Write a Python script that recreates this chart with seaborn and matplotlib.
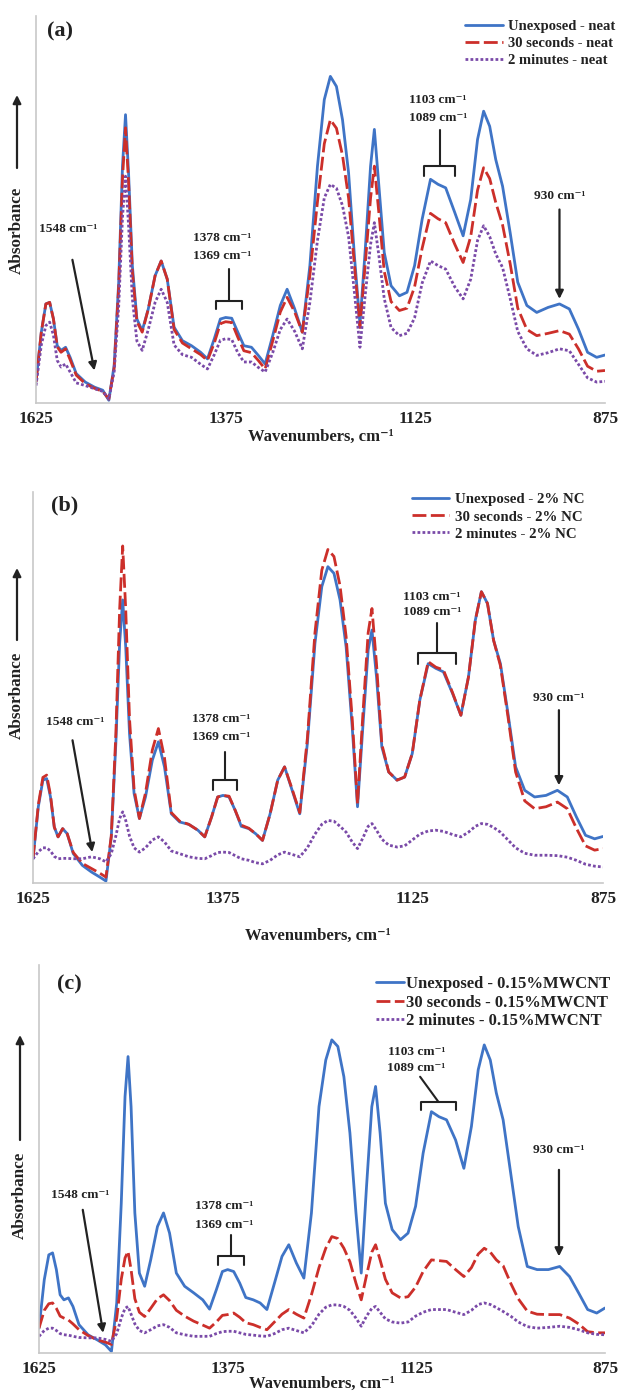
import numpy as np
import pandas as pd
import seaborn as sns
import matplotlib
matplotlib.use("Agg")
import matplotlib.pyplot as plt
from matplotlib.patches import FancyArrowPatch

sns.set_style("white")
plt.rcParams['font.family'] = ['Liberation Serif', 'DejaVu Serif']
plt.rcParams['font.weight'] = 'bold'

# ---------------- data ----------------
wavenumbers = [1625, 1618, 1612, 1607, 1602, 1597, 1592, 1586, 1580, 1572,
               1560, 1548, 1537, 1529, 1522, 1516, 1511, 1507, 1503, 1498,
               1492, 1485, 1477, 1468, 1460, 1452, 1443, 1432, 1420, 1408,
               1399, 1390, 1382, 1375, 1367, 1359, 1351, 1341, 1332, 1323,
               1313, 1303, 1294, 1284, 1274, 1264, 1254, 1245, 1237, 1229,
               1221, 1213, 1205, 1198, 1191, 1184, 1179, 1173, 1166, 1157,
               1146, 1136, 1126, 1116, 1105, 1095, 1085, 1073, 1062, 1052,
               1043, 1035, 1027, 1019, 1010, 1000, 990, 978, 965, 950,
               935, 922, 910, 898, 886, 875]

a_unexposed = [0.054, 0.183, 0.256, 0.26, 0.217, 0.148, 0.136, 0.144, 0.118, 0.076,
               0.054, 0.041, 0.033, 0.007, 0.097, 0.312, 0.612, 0.745, 0.594, 0.355,
               0.217, 0.187, 0.243, 0.329, 0.367, 0.32, 0.196, 0.161, 0.148, 0.131,
               0.114, 0.166, 0.217, 0.221, 0.219, 0.183, 0.148, 0.144, 0.123, 0.101,
               0.174, 0.252, 0.294, 0.243, 0.183, 0.355, 0.612, 0.784, 0.844, 0.818,
               0.732, 0.595, 0.372, 0.204, 0.397, 0.612, 0.707, 0.56, 0.389, 0.303,
               0.277, 0.286, 0.355, 0.475, 0.578, 0.565, 0.556, 0.492, 0.432, 0.526,
               0.681, 0.754, 0.715, 0.629, 0.56, 0.44, 0.312, 0.252, 0.234, 0.247,
               0.256, 0.243, 0.191, 0.131, 0.118, 0.124]
a_30s = [0.054, 0.183, 0.256, 0.26, 0.217, 0.145, 0.131, 0.14, 0.112, 0.072,
         0.05, 0.038, 0.03, 0.01, 0.09, 0.30, 0.58, 0.711, 0.57, 0.34,
         0.21, 0.183, 0.243, 0.329, 0.367, 0.32, 0.19, 0.155, 0.14, 0.125,
         0.11, 0.155, 0.205, 0.21, 0.208, 0.17, 0.135, 0.13, 0.11, 0.088,
         0.16, 0.235, 0.273, 0.235, 0.183, 0.33, 0.52, 0.67, 0.732, 0.71,
         0.64, 0.53, 0.35, 0.195, 0.36, 0.53, 0.612, 0.49, 0.34, 0.262,
         0.239, 0.245, 0.30, 0.40, 0.49, 0.476, 0.466, 0.41, 0.363, 0.43,
         0.55, 0.608, 0.58, 0.518, 0.46, 0.36, 0.245, 0.19, 0.174, 0.18,
         0.187, 0.178, 0.14, 0.095, 0.082, 0.084]
a_2min = [0.045, 0.15, 0.20, 0.209, 0.175, 0.11, 0.093, 0.101, 0.08, 0.052,
          0.045, 0.037, 0.03, 0.01, 0.08, 0.25, 0.48, 0.586, 0.46, 0.27,
          0.16, 0.136, 0.19, 0.26, 0.294, 0.26, 0.15, 0.125, 0.118, 0.10,
          0.088, 0.125, 0.162, 0.166, 0.164, 0.13, 0.106, 0.106, 0.092, 0.08,
          0.13, 0.19, 0.217, 0.185, 0.14, 0.26, 0.42, 0.53, 0.565, 0.555,
          0.51, 0.43, 0.28, 0.144, 0.28, 0.41, 0.466, 0.38, 0.27, 0.195,
          0.174, 0.18, 0.22, 0.31, 0.367, 0.355, 0.346, 0.30, 0.269, 0.32,
          0.42, 0.458, 0.43, 0.385, 0.35, 0.27, 0.185, 0.14, 0.123, 0.13,
          0.14, 0.135, 0.10, 0.065, 0.054, 0.056]

b_unexposed = [0.062, 0.195, 0.263, 0.267, 0.22, 0.143, 0.118, 0.139, 0.126, 0.075,
               0.045, 0.028, 0.015, 0.005, 0.118, 0.357, 0.613, 0.724, 0.604, 0.382,
               0.229, 0.165, 0.22, 0.314, 0.361, 0.297, 0.177, 0.156, 0.15, 0.135,
               0.118, 0.169, 0.22, 0.224, 0.22, 0.186, 0.145, 0.139, 0.126, 0.109,
               0.177, 0.263, 0.297, 0.237, 0.177, 0.357, 0.613, 0.758, 0.809, 0.792,
               0.724, 0.604, 0.399, 0.195, 0.399, 0.596, 0.647, 0.527, 0.348, 0.284,
               0.263, 0.271, 0.331, 0.468, 0.561, 0.549, 0.54, 0.485, 0.429, 0.527,
               0.672, 0.745, 0.715, 0.621, 0.561, 0.433, 0.297, 0.237, 0.22, 0.224,
               0.237, 0.22, 0.169, 0.122, 0.113, 0.119]
b_30s = [0.062, 0.20, 0.27, 0.276, 0.225, 0.143, 0.118, 0.139, 0.126, 0.078,
         0.05, 0.037, 0.025, 0.015, 0.12, 0.38, 0.70, 0.862, 0.70, 0.42,
         0.24, 0.165, 0.23, 0.34, 0.395, 0.32, 0.18, 0.158, 0.15, 0.135,
         0.118, 0.169, 0.22, 0.224, 0.222, 0.186, 0.148, 0.14, 0.126, 0.109,
         0.177, 0.263, 0.297, 0.24, 0.18, 0.37, 0.64, 0.80, 0.853, 0.835,
         0.76, 0.63, 0.42, 0.203, 0.43, 0.64, 0.702, 0.56, 0.355, 0.284,
         0.263, 0.271, 0.331, 0.468, 0.566, 0.552, 0.545, 0.487, 0.429, 0.527,
         0.672, 0.745, 0.715, 0.621, 0.556, 0.425, 0.284, 0.21, 0.19, 0.195,
         0.207, 0.19, 0.14, 0.095, 0.084, 0.088]
b_2min = [0.062, 0.08, 0.09, 0.09, 0.082, 0.068, 0.062, 0.063, 0.063, 0.062,
          0.062, 0.067, 0.062, 0.054, 0.075, 0.12, 0.165, 0.182, 0.16, 0.12,
          0.09, 0.079, 0.09, 0.11, 0.118, 0.105, 0.082, 0.075, 0.067, 0.063,
          0.062, 0.07, 0.078, 0.079, 0.078, 0.07, 0.062, 0.058, 0.052, 0.049,
          0.058, 0.072, 0.079, 0.073, 0.067, 0.09, 0.125, 0.15, 0.16, 0.158,
          0.145, 0.13, 0.105, 0.088, 0.115, 0.145, 0.152, 0.135, 0.112, 0.097,
          0.092, 0.095, 0.11, 0.125, 0.133, 0.135, 0.132, 0.124, 0.118, 0.13,
          0.145, 0.152, 0.15, 0.142, 0.13, 0.11, 0.09, 0.076, 0.071, 0.071,
          0.07, 0.066, 0.058, 0.048, 0.043, 0.041]

c_unexposed = [0.064, 0.189, 0.253, 0.258, 0.215, 0.15, 0.137, 0.142, 0.12, 0.073,
               0.047, 0.034, 0.021, 0.004, 0.129, 0.386, 0.661, 0.764, 0.635, 0.361,
               0.206, 0.172, 0.24, 0.326, 0.361, 0.309, 0.206, 0.172, 0.155, 0.137,
               0.113, 0.163, 0.21, 0.215, 0.21, 0.18, 0.143, 0.137, 0.129, 0.112,
               0.18, 0.249, 0.279, 0.232, 0.193, 0.361, 0.635, 0.755, 0.807, 0.79,
               0.712, 0.567, 0.361, 0.206, 0.429, 0.635, 0.687, 0.567, 0.386, 0.318,
               0.292, 0.309, 0.378, 0.515, 0.622, 0.609, 0.601, 0.549, 0.476, 0.584,
               0.73, 0.794, 0.755, 0.67, 0.601, 0.464, 0.326, 0.223, 0.215, 0.215,
               0.223, 0.197, 0.155, 0.112, 0.103, 0.116]
c_30s = [0.064, 0.11, 0.127, 0.129, 0.115, 0.095, 0.09, 0.085, 0.075, 0.06,
         0.045, 0.034, 0.028, 0.022, 0.09, 0.19, 0.245, 0.262, 0.215, 0.14,
         0.105, 0.094, 0.115, 0.14, 0.15, 0.135, 0.11, 0.095, 0.082, 0.072,
         0.064, 0.08, 0.097, 0.099, 0.103, 0.092, 0.078, 0.073, 0.066, 0.06,
         0.08, 0.10, 0.112, 0.10, 0.09, 0.15, 0.22, 0.27, 0.30, 0.295,
         0.27, 0.235, 0.18, 0.137, 0.20, 0.26, 0.279, 0.24, 0.19, 0.155,
         0.142, 0.145, 0.17, 0.21, 0.24, 0.238, 0.236, 0.215, 0.197, 0.22,
         0.255, 0.27, 0.26, 0.24, 0.225, 0.18, 0.14, 0.108, 0.10, 0.099,
         0.099, 0.09, 0.075, 0.055, 0.052, 0.052]
c_2min = [0.043, 0.058, 0.064, 0.064, 0.058, 0.05, 0.047, 0.046, 0.043, 0.04,
          0.039, 0.039, 0.035, 0.03, 0.05, 0.09, 0.115, 0.12, 0.10, 0.075,
          0.058, 0.052, 0.06, 0.07, 0.073, 0.066, 0.052, 0.047, 0.043, 0.043,
          0.043, 0.05, 0.055, 0.056, 0.056, 0.052, 0.048, 0.046, 0.044, 0.043,
          0.05, 0.06, 0.064, 0.058, 0.052, 0.07, 0.10, 0.118, 0.124, 0.124,
          0.12, 0.11, 0.09, 0.069, 0.095, 0.115, 0.12, 0.105, 0.088, 0.08,
          0.077, 0.08, 0.095, 0.105, 0.112, 0.112, 0.112, 0.105, 0.099, 0.11,
          0.125, 0.129, 0.125, 0.117, 0.107, 0.095, 0.08, 0.068, 0.064, 0.066,
          0.069, 0.066, 0.06, 0.052, 0.048, 0.047]

x_ticks = [1625, 1375, 1125, 875]
panel_labels = ["(a)", "(b)", "(c)"]
legend_a = ["Unexposed - neat", "30 seconds - neat", "2 minutes - neat"]
legend_b = ["Unexposed - 2% NC", "30 seconds - 2% NC", "2 minutes - 2% NC"]
legend_c = ["Unexposed - 0.15%MWCNT", "30 seconds - 0.15%MWCNT", "2 minutes - 0.15%MWCNT"]

# ---------------- figure ----------------
W, H = 622, 1393
fig = plt.figure(figsize=(W / 100, H / 100), dpi=100)


def fx(px):
    return px / W


def fy(py):
    return 1 - py / H


def ax_rect(left, top, right, bottom):
    return [fx(left), fy(bottom), fx(right) - fx(left), fy(top) - fy(bottom)]


BLUE = '#3f74c6'
RED = '#cc2f2a'
PURPLE = '#7a4aa8'
INK = '#222222'
styles = [dict(color=BLUE, linestyle='-'),
          dict(color=RED, linestyle=(0, (5, 1.6))),
          dict(color=PURPLE, linestyle=(0, (1, 0.8)))]

panels = [
    dict(rect=ax_rect(36, 16, 605, 403), series=[a_unexposed, a_30s, a_2min], labels=legend_a,
         plabel=(60, 31), leg=(465, 20, 10.5, 2.6, 0.35, 0.25), xlab_pad=1,
         ylab=(17, 230, 168, 95),
         ann=dict(t1548=(1582, 0.449), a1548=((1577, 0.37), (1548, 0.084)),
                  t1378=(1380, 0.427, 0.38), br1378=(1371, 0.346, 0.264, 1388, 1353, 0.243, None),
                  t1103=(1095, 0.784, 0.736), br1103=(1093, 0.706, 0.612, 1113, 1073, 0.586, None),
                  t930=(935, 0.535), a930=((935, 0.50), (935, 0.269)))),
    dict(rect=ax_rect(33, 492, 603, 883), series=[b_unexposed, b_30s, b_2min], labels=legend_b,
         plabel=(65, 505), leg=(412, 493, 10.7, 2.5, 0.4, 0.25), xlab_pad=15,
         ylab=(17, 695, 640, 568),
         ann=dict(t1548=(1570, 0.412), a1548=((1573, 0.365), (1547, 0.079)),
                  t1378=(1377, 0.42, 0.374), br1378=(1373, 0.335, 0.263, 1388, 1356, 0.237, None),
                  t1103=(1100, 0.732, 0.694), br1103=(1093, 0.664, 0.587, 1118, 1069, 0.561, None),
                  t930=(933, 0.472), a930=((933, 0.442), (933, 0.25)))),
    dict(rect=ax_rect(39, 965, 605, 1353), series=[c_unexposed, c_30s, c_2min], labels=legend_c,
         plabel=(69, 984), leg=(376, 976, 12.0, 1.7, 0.12, 0.16), xlab_pad=-1,
         ylab=(20, 1195, 1140, 1035),
         ann=dict(t1548=(1570, 0.408), a1548=((1567, 0.369), (1540, 0.052)),
                  t1378=(1379, 0.378, 0.33), br1378=(1370, 0.305, 0.249, 1388, 1354, 0.227, None),
                  t1103=(1125, 0.777, 0.734), br1103=(1096, 0.712, 0.648, 1119, 1072, 0.627, 1120),
                  t930=(936, 0.524), a930=((936, 0.472), (936, 0.249)))),
]

txt_kw = dict(fontweight='bold', ha='center', va='center', fontsize=9.6, color=INK)
arrow_kw = dict(arrowstyle='-|>', color=INK, lw=1.6, mutation_scale=12, shrinkA=0, shrinkB=0)

for i, p in enumerate(panels):
    ax = fig.add_axes(p['rect'])
    for vals, lab, st in zip(p['series'], p['labels'], styles):
        df = pd.DataFrame({'wn': wavenumbers, 'abs': vals})
        sns.lineplot(data=df, x='wn', y='abs', ax=ax, color=st['color'], linestyle=st['linestyle'],
                     linewidth=2.0, label=lab, sort=False)
    ax.set_xlim(1625, 875)
    ax.set_ylim(0, 1)
    ax.set_xticks(x_ticks)
    ax.set_xticklabels([str(t) for t in x_ticks], fontsize=12.5, fontweight='bold')
    ax.set_yticks([])
    ax.set_ylabel('')
    ax.set_xlabel('Wavenumbers, cm\u207b\u00b9', fontsize=12, fontweight='bold',
                  labelpad=p['xlab_pad'], color=INK)
    for s in ['top', 'right']:
        ax.spines[s].set_visible(False)
    for s in ['left', 'bottom']:
        ax.spines[s].set_color('#c8c8c8')
        ax.spines[s].set_linewidth(1.2)
    ax.tick_params(axis='x', direction='out', length=4, color='#c8c8c8', pad=2, labelcolor=INK)

    # legend
    lx, ly, lfs, hl, htp, lsp = p['leg']
    leg = ax.legend(loc='upper left', bbox_to_anchor=(fx(lx), fy(ly)), bbox_transform=fig.transFigure,
                    frameon=False, handlelength=hl, handletextpad=htp,
                    labelspacing=lsp, borderaxespad=0, borderpad=0,
                    prop=dict(weight='bold', size=lfs))
    for t in leg.get_texts():
        t.set_color(INK)

    # panel label
    fig.text(fx(p['plabel'][0]), fy(p['plabel'][1]), panel_labels[i],
             fontsize=16, fontweight='bold', ha='center', va='center', color=INK)

    # y label with arrow
    yx, ycen, ya0, ya1 = p['ylab']
    fig.text(fx(yx), fy(ycen), 'Absorbance', rotation=90, fontsize=12.3, fontweight='bold',
             ha='center', va='center', color=INK)
    fig.add_artist(FancyArrowPatch((fx(yx), fy(ya0)), (fx(yx), fy(ya1)),
                                   transform=fig.transFigure, **arrow_kw))

    an = p['ann']
    ax.text(an['t1548'][0], an['t1548'][1], '1548 cm\u207b\u00b9', **txt_kw)
    ax.annotate('', xy=an['a1548'][1], xytext=an['a1548'][0], arrowprops=arrow_kw)
    ax.text(an['t1378'][0], an['t1378'][1], '1378 cm\u207b\u00b9', **txt_kw)
    ax.text(an['t1378'][0], an['t1378'][2], '1369 cm\u207b\u00b9', **txt_kw)
    ax.text(an['t1103'][0], an['t1103'][1], '1103 cm\u207b\u00b9', **txt_kw)
    ax.text(an['t1103'][0], an['t1103'][2], '1089 cm\u207b\u00b9', **txt_kw)
    for key in ['br1378', 'br1103']:
        sx, ytop, yh, xl, xr, yend, stem_x_top = an[key]
        sxt = sx if stem_x_top is None else stem_x_top
        ax.plot([sxt, sx], [ytop, yh], color=INK, lw=1.5)
        ax.plot([xl, xl, xr, xr], [yend, yh, yh, yend], color=INK, lw=1.5)
    ax.text(an['t930'][0], an['t930'][1], '930 cm\u207b\u00b9', **txt_kw)
    ax.annotate('', xy=an['a930'][1], xytext=an['a930'][0], arrowprops=arrow_kw)

fig.savefig('out.png', dpi=100)
